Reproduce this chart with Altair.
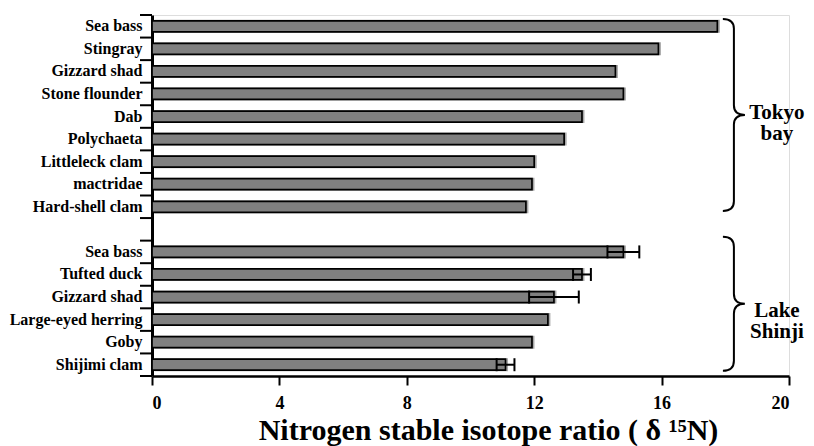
import altair as alt
import pandas as pd

# ---- data ----
tokyo_names = ["Sea bass", "Stingray", "Gizzard shad", "Stone flounder", "Dab",
               "Polychaeta", "Littleleck clam", "mactridae", "Hard-shell clam"]
tokyo_vals = [17.75, 15.9, 14.55, 14.8, 13.5, 12.94, 12.0, 11.93, 11.74]

shinji_names = ["Sea bass", "Tufted duck", "Gizzard shad", "Large-eyed herring", "Goby", "Shijimi clam"]
shinji_vals = [14.8, 13.5, 12.62, 12.43, 11.93, 11.1]
shinji_err = [0.5, 0.28, 0.78, None, None, 0.28]

x_ticks = [0, 4, 8, 12, 16, 20]
x_title = "Nitrogen stable isotope ratio ( δ ¹⁵N)"

groups = ["Tokyo\nbay", "Lake\nShinji"]

FONT = "Liberation Serif"

# ---- build tables ----
rows = []
for n, v in zip(tokyo_names, tokyo_vals):
    rows.append({"key": "T|" + n, "name": n, "value": v, "err": None})
rows.append({"key": "gap|", "name": "", "value": None, "err": None})
for n, v, e in zip(shinji_names, shinji_vals, shinji_err):
    rows.append({"key": "S|" + n, "name": n, "value": v, "err": e})
df = pd.DataFrame(rows)
keys = list(df["key"])
bars_df = df[df["value"].notna()].copy()
err_df = bars_df[bars_df["err"].notna()].copy()
err_df["lo"] = err_df["value"] - err_df["err"]
err_df["hi"] = err_df["value"] + err_df["err"]
caps_df = pd.concat([
    err_df[["key", "lo"]].rename(columns={"lo": "pos"}),
    err_df[["key", "hi"]].rename(columns={"hi": "pos"}),
])

yscale = alt.Scale(domain=keys, paddingInner=0, paddingOuter=0)
xscale = alt.Scale(domain=[0, 20], nice=False)

yaxis = alt.Axis(
    labelExpr="split(datum.label, '|')[1]",
    ticks=False, tickSize=0, labelPadding=10,
    labelFont=FONT, labelFontWeight="bold", labelFontSize=16, labelColor="black",
    domainColor="black", domainWidth=3, labelLimit=300, title=None,
)
xaxis = alt.Axis(
    values=x_ticks, grid=False, title=x_title,
    labelFont=FONT, labelFontWeight="bold", labelFontSize=18, labelColor="black",
    titleFont=FONT, titleFontWeight="bold", titleFontSize=30, titleColor="black",
    domainColor="black", domainWidth=2.5, tickColor="black", tickWidth=2, tickSize=9,
    labelPadding=9, titlePadding=3, titleX=336, titleAlign="center",
)

def Y(band=0.5):
    return alt.Y("key:N", scale=yscale, sort=keys, bandPosition=band, axis=yaxis, title=None)

def X(field):
    return alt.X(field, scale=xscale, axis=xaxis, title=x_title)

base = alt.Chart(bars_df)

shadow = base.mark_bar(size=13, color="#a8a8a8", xOffset=2.5).encode(
    x=X("value:Q"), y=Y(),
)
bars = base.mark_bar(size=11, fill="#808080", stroke="black", strokeWidth=1.7).encode(
    x=X("value:Q"), y=Y(),
)
err_rule = alt.Chart(err_df).mark_rule(color="black", strokeWidth=2).encode(
    x=X("lo:Q"), x2="hi:Q", y=Y(),
)
caps = alt.Chart(caps_df).mark_tick(color="black", thickness=2, size=13, opacity=1).encode(
    x=X("pos:Q"), y=Y(),
)
ytick_df = pd.DataFrame({"key": keys})
yticks = alt.Chart(ytick_df).mark_rule(color="black", strokeWidth=2).encode(
    y=Y(band=0), x=alt.value(-12), x2=alt.value(0),
)
ytick_last = alt.Chart(ytick_df.tail(1)).mark_rule(color="black", strokeWidth=2).encode(
    y=Y(band=1), x=alt.value(-12), x2=alt.value(0),
)

# braces (custom symbol paths)
brace_tokyo = "M -0.115 -1 Q 0 -1 0 -0.9 L 0 -0.1 Q 0 0 0.115 0 Q 0 0 0 0.1 L 0 0.9 Q 0 1 -0.115 1"
brace_shinji = "M -0.164 -1 Q 0 -1 0 -0.85 L 0 -0.15 Q 0 0 0.164 0 Q 0 0 0 0.15 L 0 0.85 Q 0 1 -0.164 1"

b1 = alt.Chart(pd.DataFrame({"key": ["T|Dab"], "bx": [18.27]})).mark_point(
    shape=brace_tokyo, size=36864, filled=False, color="black", strokeWidth=2, opacity=1
).encode(x=X("bx:Q"), y=Y(band=0.43))
b2 = alt.Chart(pd.DataFrame({"key": ["S|Gizzard shad"], "bx": [18.27]})).mark_point(
    shape=brace_shinji, size=17956, filled=False, color="black", strokeWidth=2, opacity=1
).encode(x=X("bx:Q"), y=Y(band=0.8))

t1 = alt.Chart(pd.DataFrame({"key": ["T|Dab"], "tx": [19.62], "label": [groups[0]]})).mark_text(
    font=FONT, fontWeight="bold", fontSize=21, color="black", lineBreak="\n", lineHeight=21,
    align="center", baseline="middle",
).encode(x=X("tx:Q"), y=Y(band=0.33), text="label:N")
t2 = alt.Chart(pd.DataFrame({"key": ["S|Large-eyed herring"], "tx": [19.62], "label": [groups[1]]})).mark_text(
    font=FONT, fontWeight="bold", fontSize=21, color="black", lineBreak="\n", lineHeight=21,
    align="center", baseline="middle",
).encode(x=X("tx:Q"), y=Y(band=0.1), text="label:N")

chart = alt.layer(shadow, bars, err_rule, caps, yticks, ytick_last, b1, b2, t1, t2).properties(
    width=637, height=361,
    autosize=alt.AutoSizeParams(type="none"),
    padding={"left": 144, "top": 7, "right": 17, "bottom": 70},
).configure_view(stroke=None).configure(background="white")

chart.save("out.html", embed_options={"renderer": "svg", "actions": False})
